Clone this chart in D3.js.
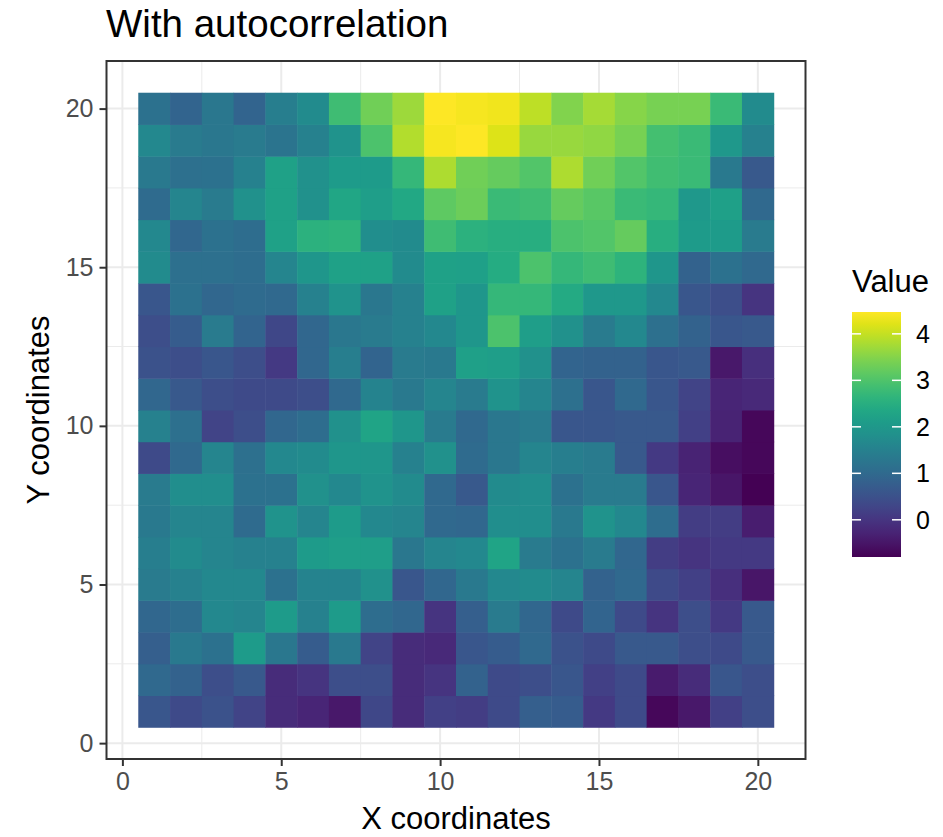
<!DOCTYPE html>
<meta charset="utf-8">
<script src="https://d3js.org/d3.v7.min.js"></script>
<style>
    body { margin: 0; background: #fff; }
    text { font-family: 'Liberation Sans', Arial, sans-serif; }
</style>
<div id="chart"></div>
<script>
// grid coordinates
const xs = [1, 2, 3, 4, 5, 6, 7, 8, 9, 10, 11, 12, 13, 14, 15, 16, 17, 18, 19, 20];

// values per row, read from x = 1 .. 20
const y20 = [1.17, 0.88, 1.28, 0.88, 1.44, 1.72, 2.83, 3.33, 3.7, 4.47, 4.4, 4.36, 3.95, 3.48, 3.75, 3.52, 3.38, 3.38, 2.77, 1.72];
const y19 = [1.66, 1.38, 1.28, 1.38, 1.23, 1.5, 1.9, 2.97, 3.86, 4.4, 4.45, 4.2, 3.65, 3.65, 3.6, 3.38, 2.9, 2.77, 2.02, 1.5];
const y18 = [1.33, 1.12, 1.17, 1.5, 2.22, 1.84, 2.08, 2.08, 2.7, 3.82, 3.33, 3.22, 3.03, 3.82, 3.33, 3.03, 2.86, 2.77, 1.33, 0.66];
const y17 = [1.02, 1.6, 1.38, 1.84, 2.22, 1.84, 2.31, 2.13, 2.36, 3.16, 3.28, 2.77, 2.83, 3.22, 3.1, 2.77, 2.7, 2.02, 2.18, 0.98];
const y16 = [1.66, 0.93, 1.17, 1.07, 2.22, 2.56, 2.6, 1.78, 1.72, 2.83, 2.56, 2.5, 2.5, 2.97, 3.03, 3.22, 2.5, 2.08, 2.08, 1.38];
const y15 = [1.72, 1.12, 1.12, 1.07, 1.6, 1.96, 2.22, 2.22, 1.72, 2.22, 2.18, 2.45, 2.97, 2.7, 2.83, 2.6, 1.96, 0.83, 1.17, 0.98];
const y14 = [0.6, 1.17, 0.93, 1.02, 0.98, 1.5, 1.9, 1.28, 1.5, 2.22, 1.96, 2.7, 2.7, 2.41, 2.02, 2.02, 1.66, 0.6, 0.45, 0.0];
const y13 = [0.45, 0.72, 1.38, 0.88, 0.32, 0.93, 1.28, 1.38, 1.5, 1.66, 1.96, 2.97, 2.13, 1.84, 1.38, 1.66, 1.12, 0.83, 0.6, 0.66];
const y12 = [0.53, 0.45, 0.6, 0.45, 0.07, 0.93, 1.44, 0.88, 1.38, 1.33, 2.18, 2.13, 1.84, 0.88, 0.83, 0.83, 0.6, 0.66, -0.47, -0.08];
const y11 = [0.93, 0.66, 0.45, 0.38, 0.38, 0.45, 0.98, 1.55, 1.33, 1.6, 1.38, 1.9, 1.6, 1.12, 0.6, 0.98, 0.6, 0.25, -0.25, -0.2];
const y10 = [1.5, 1.12, 0.25, 0.45, 0.93, 1.07, 1.84, 2.27, 1.96, 1.38, 0.98, 1.28, 1.38, 0.6, 0.6, 0.66, 0.66, 0.2, -0.3, -0.7];
const y9  = [0.38, 0.98, 1.6, 1.12, 1.66, 1.72, 1.96, 1.96, 1.5, 1.84, 1.02, 1.28, 1.6, 1.44, 1.38, 0.66, 0.07, -0.3, -0.6, -0.7];
const y8  = [1.38, 1.78, 1.78, 1.17, 1.17, 1.84, 1.66, 1.9, 1.72, 0.98, 0.66, 1.72, 1.78, 1.17, 1.38, 1.38, 0.6, -0.25, -0.5, -0.8];
const y7  = [1.33, 1.6, 1.6, 1.02, 1.9, 1.6, 2.08, 1.66, 1.6, 0.98, 0.93, 1.78, 1.78, 1.33, 1.9, 1.66, 1.07, 0.13, 0.13, -0.37];
const y6  = [1.44, 1.72, 1.6, 1.5, 1.5, 2.08, 2.13, 2.13, 1.28, 1.6, 1.66, 2.27, 1.38, 1.17, 1.38, 0.93, 0.13, 0.0, 0.07, 0.07];
const y5  = [1.38, 1.5, 1.66, 1.66, 1.17, 1.55, 1.55, 1.84, 0.6, 0.93, 1.33, 1.66, 1.72, 1.6, 0.83, 0.98, 0.38, 0.2, -0.08, -0.5];
const y4  = [0.93, 1.07, 1.66, 1.6, 2.08, 1.5, 2.08, 1.07, 0.93, 0.0, 0.78, 1.38, 0.93, 0.38, 0.88, 0.38, 0.0, 0.45, 0.07, 0.66];
const y3  = [0.78, 1.33, 1.17, 2.08, 1.28, 0.72, 1.33, 0.25, -0.15, -0.2, 0.6, 0.72, 0.98, 0.53, 0.38, 0.66, 0.66, 0.45, 0.38, 0.66];
const y2  = [0.98, 0.83, 0.45, 0.66, -0.15, 0.0, 0.45, 0.45, -0.15, 0.0, 0.83, 0.38, 0.45, 0.6, 0.2, 0.38, -0.42, -0.15, 0.6, 0.45];
const y1  = [0.6, 0.38, 0.53, 0.25, -0.15, -0.25, -0.47, 0.32, -0.15, 0.2, 0.13, 0.38, 0.78, 0.72, 0.07, 0.38, -0.7, -0.47, 0.2, 0.45];

const rows = [y1, y2, y3, y4, y5, y6, y7, y8, y9, y10, y11, y12, y13, y14, y15, y16, y17, y18, y19, y20];

const axisTicks = [0, 5, 10, 15, 20];
const minorTicks = [2.5, 7.5, 12.5, 17.5];
const legendTicks = [0, 1, 2, 3, 4];
const valueRange = [-0.8, 4.47];

// flatten to tiles
let tiles = [];
rows.forEach(function (row, j) {
    row.forEach(function (v, i) {
        tiles.push({x: xs[i], y: j + 1, value: v});
    });
});

const W = 943, H = 837;
const panel = {left: 106.5, right: 805.5, top: 61, bottom: 759};

let svg = d3.select("#chart").append("svg")
    .attr("width", W)
    .attr("height", H);

let x = d3.scaleLinear().domain([-0.5, 21.5]).range([panel.left, panel.right]);
let y = d3.scaleLinear().domain([-0.5, 21.5]).range([panel.bottom, panel.top]);
let color = d3.scaleSequential(d3.interpolateViridis).domain(valueRange);

// grid lines
let grid = svg.append("g");
minorTicks.forEach(function (t) {
    grid.append("line").attr("x1", x(t)).attr("x2", x(t))
        .attr("y1", panel.top).attr("y2", panel.bottom)
        .attr("stroke", "#ebebeb").attr("stroke-width", 1);
    grid.append("line").attr("y1", y(t)).attr("y2", y(t))
        .attr("x1", panel.left).attr("x2", panel.right)
        .attr("stroke", "#ebebeb").attr("stroke-width", 1);
});
axisTicks.forEach(function (t) {
    grid.append("line").attr("x1", x(t)).attr("x2", x(t))
        .attr("y1", panel.top).attr("y2", panel.bottom)
        .attr("stroke", "#ebebeb").attr("stroke-width", 2);
    grid.append("line").attr("y1", y(t)).attr("y2", y(t))
        .attr("x1", panel.left).attr("x2", panel.right)
        .attr("stroke", "#ebebeb").attr("stroke-width", 2);
});

// tiles
svg.append("g")
    .selectAll("rect")
    .data(tiles)
    .enter().append("rect")
    .attr("x", d => x(d.x - 0.5))
    .attr("y", d => y(d.y + 0.5))
    .attr("width", d => x(d.x + 0.5) - x(d.x - 0.5) + 0.5)
    .attr("height", d => y(d.y - 0.5) - y(d.y + 0.5) + 0.5)
    .attr("fill", d => color(d.value));

// panel border
svg.append("rect")
    .attr("x", panel.left).attr("y", panel.top)
    .attr("width", panel.right - panel.left)
    .attr("height", panel.bottom - panel.top)
    .attr("fill", "none")
    .attr("stroke", "#333333")
    .attr("stroke-width", 2);

// axes
let xAxis = svg.append("g")
    .attr("transform", "translate(0," + panel.bottom + ")")
    .call(d3.axisBottom(x).tickValues(axisTicks).tickSize(7).tickPadding(6));
let yAxis = svg.append("g")
    .attr("transform", "translate(" + panel.left + ",0)")
    .call(d3.axisLeft(y).tickValues(axisTicks).tickSize(7).tickPadding(6));

[xAxis, yAxis].forEach(function (a) {
    a.select(".domain").remove();
    a.selectAll(".tick line").attr("stroke", "#333333").attr("stroke-width", 2);
    a.selectAll(".tick text")
        .attr("fill", "#4d4d4d")
        .style("font-size", "25px")
        .style("font-family", "'Liberation Sans', Arial, sans-serif");
});

// titles
svg.append("text")
    .attr("x", 106).attr("y", 37)
    .style("font-size", "38.5px")
    .attr("fill", "#000")
    .text("With autocorrelation");

svg.append("text")
    .attr("x", (panel.left + panel.right) / 2).attr("y", 829)
    .attr("text-anchor", "middle")
    .style("font-size", "31px")
    .text("X coordinates");

svg.append("text")
    .attr("transform", "translate(49," + (panel.top + panel.bottom) / 2 + ") rotate(-90)")
    .attr("text-anchor", "middle")
    .style("font-size", "31px")
    .text("Y coordinates");

// legend
let lg = {left: 852, width: 49, top: 312, bottom: 557};
let ly = d3.scaleLinear().domain(valueRange).range([lg.bottom, lg.top]);

let grad = svg.append("defs").append("linearGradient")
    .attr("id", "legend-gradient")
    .attr("x1", 0).attr("y1", 1).attr("x2", 0).attr("y2", 0);
grad.selectAll("stop")
    .data(d3.range(0, 1.0001, 0.05))
    .enter().append("stop")
    .attr("offset", d => (d * 100) + "%")
    .attr("stop-color", d => d3.interpolateViridis(d));

svg.append("text")
    .attr("x", lg.left).attr("y", 292)
    .style("font-size", "31px")
    .text("Value");

svg.append("rect")
    .attr("x", lg.left).attr("y", lg.top)
    .attr("width", lg.width).attr("height", lg.bottom - lg.top)
    .attr("fill", "url(#legend-gradient)");

let lt = svg.append("g");
legendTicks.forEach(function (t) {
    lt.append("line")
        .attr("x1", lg.left).attr("x2", lg.left + 9)
        .attr("y1", ly(t)).attr("y2", ly(t))
        .attr("stroke", "#fff").attr("stroke-width", 1.5);
    lt.append("line")
        .attr("x1", lg.left + lg.width - 9).attr("x2", lg.left + lg.width)
        .attr("y1", ly(t)).attr("y2", ly(t))
        .attr("stroke", "#fff").attr("stroke-width", 1.5);
    lt.append("text")
        .attr("x", 916).attr("y", ly(t))
        .attr("dy", "0.35em")
        .attr("fill", "#000")
        .style("font-size", "25px")
        .text(t);
});
</script>
